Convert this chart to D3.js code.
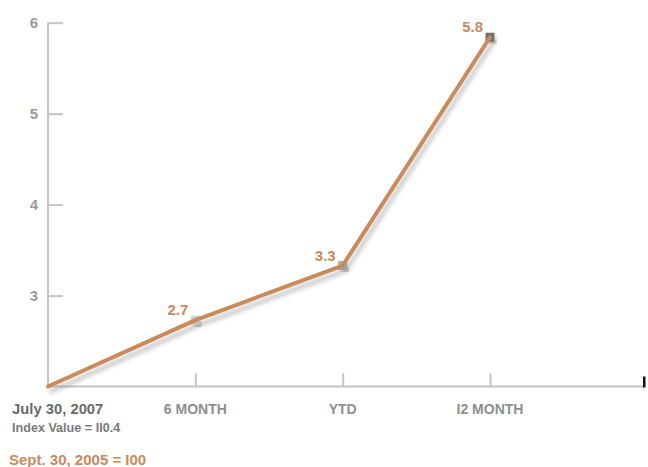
<!DOCTYPE html>
<html>
<head>
<meta charset="utf-8">
<script src="https://cdn.jsdelivr.net/npm/d3@7"></script>
<style>
  html, body { margin: 0; padding: 0; background: #fff; }
  svg { display: block; font-family: "Liberation Sans", Arial, Helvetica, sans-serif; font-weight: bold; }
</style>
</head>
<body>
<svg id="chart" width="648" height="467"></svg>
<script>
// ---- data ----
const categories = ["July 30, 2007", "6 MONTH", "YTD", "I2 MONTH"];
const values = [0, 2.73, 3.33, 5.84];
const valueLabels = ["", "2.7", "3.3", "5.8"];
const yTicks = [3, 4, 5, 6];
const subLabel = "Index Value = II0.4";
const footnote = "Sept. 30, 2005 = I00";

// ---- layout ----
const svg = d3.select("#chart");
const x0 = 48, xEnd = 645, yBase = 386.5, yTop = 22.7;

const x = d3.scalePoint().domain(categories).range([x0, 490]);
const y = d3.scaleLinear().domain([2, 6]).range([yBase, yTop]).clamp(true);

const axisColor = "#c4c4c4";
const lineColor = "#c98a5c";
const markerColors = [null, "#d2d2d2", "#aaaaaa", "#707070"];

// drop shadow filter
const defs = svg.append("defs");
const f = defs.append("filter").attr("id", "shadow")
  .attr("x", "-20%").attr("y", "-20%").attr("width", "140%").attr("height", "140%");
f.append("feDropShadow").attr("dx", 3).attr("dy", 5).attr("stdDeviation", 2.2)
  .attr("flood-color", "#7a7a7a").attr("flood-opacity", 0.45);

// Y axis
const yAxis = d3.axisRight(y).tickValues(yTicks).tickSize(15).tickFormat("");
const gy = svg.append("g").attr("transform", `translate(${x0},0)`).call(yAxis);
gy.select(".domain").attr("d", `M0,${yTop}V${yBase}`).attr("stroke", axisColor).attr("stroke-width", 2);
gy.selectAll(".tick line").attr("stroke", axisColor).attr("stroke-width", 2);

svg.append("g").selectAll("text").data(yTicks).join("text")
  .attr("x", 38).attr("y", d => y(d) + 5)
  .attr("text-anchor", "end")
  .attr("font-size", 15).attr("fill", "#9a9a9a")
  .text(d => d);

// X axis
const xAxis = d3.axisTop(x).tickValues(categories.slice(1)).tickSize(13).tickFormat("");
const gx = svg.append("g").attr("transform", `translate(0,${yBase})`).call(xAxis);
gx.select(".domain").attr("d", `M${x0},0H${xEnd}`).attr("stroke", axisColor).attr("stroke-width", 2);
gx.selectAll(".tick line").attr("stroke", axisColor).attr("stroke-width", 2);

// black end mark
svg.append("rect").attr("x", xEnd - 2).attr("y", yBase - 10).attr("width", 2.5).attr("height", 11).attr("fill", "#111");

// X labels
svg.append("g").selectAll("text").data(categories).join("text")
  .attr("x", (d, i) => i === 0 ? 12 : x(d))
  .attr("y", 414)
  .attr("text-anchor", (d, i) => i === 0 ? "start" : "middle")
  .attr("font-size", (d, i) => i === 0 ? 14.8 : 14)
  .attr("fill", (d, i) => i === 0 ? "#6a6a6a" : "#8e8e8e")
  .text(d => d);

svg.append("text").attr("x", 12).attr("y", 432)
  .attr("font-size", 12.6).attr("fill", "#7a7a7a").text(subLabel);

svg.append("text").attr("x", 9).attr("y", 465)
  .attr("font-size", 15).attr("fill", lineColor).text(footnote);

// markers
const pts = categories.map((c, i) => ({c, v: values[i], i}));
svg.append("g").selectAll("rect").data(pts.filter(d => markerColors[d.i])).join("rect")
  .attr("x", d => x(d.c) - 4.5).attr("y", d => y(d.v) - 4.5)
  .attr("width", 9).attr("height", 9)
  .attr("fill", d => markerColors[d.i])
  .attr("filter", "url(#shadow)");

// line
const line = d3.line().x(d => x(d.c)).y(d => y(d.v));
svg.append("path").datum(pts).attr("d", line)
  .attr("fill", "none").attr("stroke", lineColor).attr("stroke-width", 4)
  .attr("stroke-linejoin", "round").attr("stroke-linecap", "round")
  .attr("filter", "url(#shadow)");

// value labels
svg.append("g").selectAll("text").data(pts.filter(d => valueLabels[d.i])).join("text")
  .attr("x", d => x(d.c) - 7).attr("y", d => y(d.v) - 5)
  .attr("text-anchor", "end")
  .attr("font-size", 15).attr("fill", lineColor)
  .text(d => valueLabels[d.i]);
</script>
</body>
</html>
